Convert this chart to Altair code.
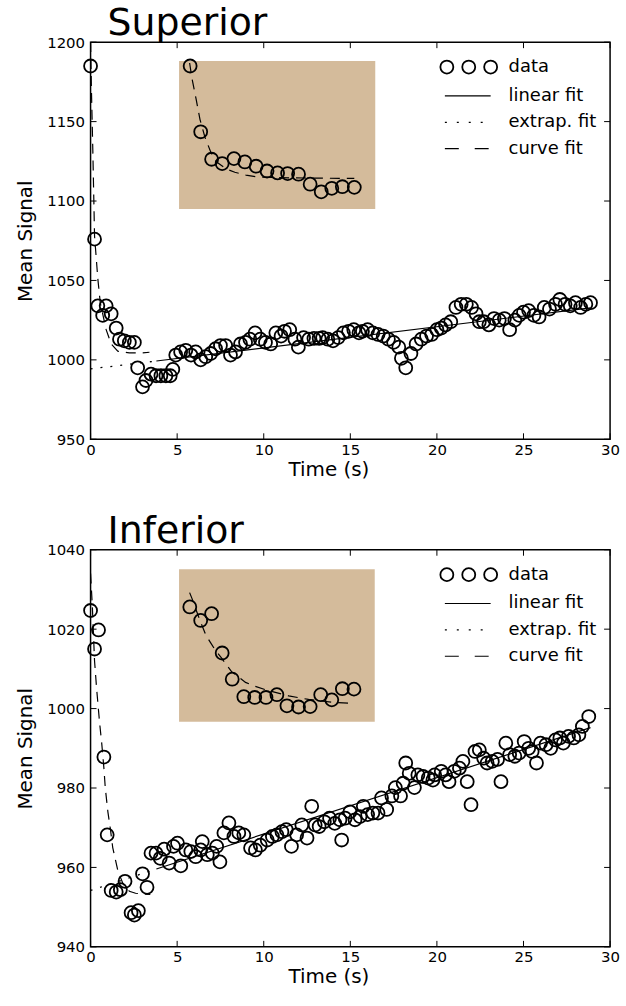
import altair as alt
import pandas as pd

# ---------------- Superior ----------------
sup_t = [0.0, 0.23, 0.42, 0.70, 0.90, 1.19, 1.48, 1.67, 1.95, 2.24, 2.53, 2.72, 3.0, 3.2,
         3.49, 3.78, 4.06, 4.35, 4.6, 4.75, 4.92, 5.2, 5.5, 5.8, 6.07, 6.36, 6.65, 6.94,
         7.22, 7.5, 7.8, 8.08, 8.37, 8.66, 8.95, 9.2, 9.5, 9.8, 10.1, 10.4, 10.7, 11.0,
         11.2, 11.5, 11.8, 12.0, 12.3, 12.6, 12.9, 13.2, 13.4, 13.7, 14.0, 14.3, 14.6,
         14.9, 15.2, 15.5, 15.7, 16.0, 16.3, 16.6, 16.9, 17.2, 17.5, 17.8, 17.95, 18.2,
         18.5, 18.8, 19.1, 19.4, 19.7, 20.0, 20.25, 20.5, 20.8, 21.1, 21.4, 21.7, 22.0,
         22.26, 22.45, 22.7, 23.0, 23.3, 23.6, 23.9, 24.2, 24.5, 24.75, 25.0, 25.3, 25.6,
         25.9, 26.2, 26.5, 26.85, 27.1, 27.4, 27.7, 28.0, 28.3, 28.6, 28.87]
sup_signal = [1185, 1076, 1034, 1028, 1034, 1029, 1020, 1013, 1012, 1011, 1011, 995, 983, 987,
              991, 990, 990, 990, 990, 994, 1003, 1005, 1006, 1003, 1005, 1000, 1002, 1004,
              1007, 1009, 1009, 1003, 1005, 1010, 1011, 1013, 1017, 1013, 1011, 1010, 1017, 1015,
              1018, 1019, 1013, 1008, 1014, 1013, 1013.5, 1013.5, 1014, 1013, 1012, 1014, 1017,
              1018, 1019, 1017, 1018, 1019, 1017, 1016, 1015, 1013, 1011, 1008, 1001, 995,
              1004, 1010, 1013, 1015, 1016, 1019, 1020, 1022, 1024, 1033, 1035, 1035, 1033,
              1029, 1024, 1024, 1022, 1026, 1025, 1026, 1019, 1025, 1028, 1030, 1031, 1028,
              1027, 1033, 1032, 1035, 1038, 1035, 1034, 1036, 1033, 1035, 1036]

sup_curve_t = [0.0, 0.05, 0.13, 0.23, 0.42, 0.56, 0.9, 1.19, 1.57, 2.24, 3.0, 3.4]
sup_curve = [1200, 1170, 1132, 1078, 1051, 1036, 1019, 1010, 1005.5, 1004.4, 1004.4, 1004.8]

sup_lin_t = [3.8, 28.87]
sup_lin = [999.3, 1032.7]
sup_ext_t = [0.0, 3.8]
sup_ext = [994.3, 999.3]

# inset panel (bounds and contents in the main panel's units)
sup_box = {"t0": 5.11, "t1": 16.44, "s0": 1095.0, "s1": 1188.1}
sup_in_t = [5.75, 6.36, 6.99, 7.60, 8.28, 8.91, 9.56, 10.19, 10.80, 11.38, 12.01,
            12.68, 13.32, 13.93, 14.54, 15.23]
sup_in_signal = [1185, 1143.6, 1126.3, 1123.6, 1126.7, 1124.6, 1121.9, 1118.9, 1117.7,
                 1117.3, 1116.9, 1110.6, 1105.8, 1108, 1109, 1108.6]
sup_in_curve_t = [5.72, 5.86, 6.09, 6.32, 6.61, 6.95, 7.30, 7.87, 8.33, 8.97, 9.6,
                  10.86, 13.16, 15.23]
sup_in_curve = [1186.9, 1176.9, 1164.4, 1151.3, 1140, 1130.6, 1124.4, 1120, 1118.1,
                1116.3, 1115.2, 1114.7, 1114.4, 1114.2]

# ---------------- Inferior ----------------
inf_t = [0.0, 0.23, 0.46, 0.77, 0.96, 1.19, 1.48, 1.72, 1.99, 2.34, 2.53, 2.76, 3.0, 3.26,
         3.49, 3.78, 4.02, 4.25, 4.54, 4.79, 5.02, 5.21, 5.5, 5.79, 6.07, 6.36, 6.45, 6.74,
         7.03, 7.28, 7.47, 7.7, 7.99, 8.28, 8.56, 8.85, 9.24, 9.52, 9.8, 10.2, 10.5, 10.76,
         11.05, 11.3, 11.6, 11.9, 12.2, 12.5, 12.77, 12.97, 13.2, 13.5, 13.8, 14.1, 14.4,
         14.5, 14.7, 14.98, 15.27, 15.56, 15.75, 16.0, 16.3, 16.6, 16.8, 17.1, 17.4, 17.6,
         17.9, 18.05, 18.2, 18.4, 18.7, 18.9, 19.2, 19.5, 19.77, 19.87, 20.25, 20.5, 20.7,
         21.0, 21.3, 21.5, 21.75, 21.97, 22.2, 22.45, 22.7, 22.9, 23.2, 23.5, 23.7, 23.98,
         24.2, 24.5, 24.75, 25.04, 25.3, 25.5, 25.75, 25.98, 26.3, 26.57, 26.85, 27.1, 27.3,
         27.6, 27.9, 28.2, 28.4, 28.77]
inf_signal = [1024.7, 1015, 1019.8, 987.8, 968.2, 954.2, 953.8, 954.4, 956.5, 948.6, 948,
              949.1, 958.4, 955, 963.6, 963.6, 962.3, 964.6, 961.1, 965.3, 966.1, 960.4,
              964.4, 964, 962.7, 964.4, 966.5, 963.2, 963.6, 965.3, 961.4, 968.7, 971.2,
              967.8, 968.7, 968.2, 964.9, 964.4, 965.6, 966.9, 967.8, 968.2, 969, 969.5,
              965.3, 968.2, 970.7, 967.4, 975.4, 970.7, 970.3, 971.5, 972.4, 971.1, 972,
              966.9, 972.4, 974, 972, 972.8, 975.4, 973.3, 973.7, 973.7, 977.5, 974.6, 978,
              980.1, 978, 981.2, 986.3, 983.7, 980.1, 983.3, 982.9, 982.5, 982, 983.3,
              984.2, 983.3, 981.6, 984.2, 985, 986.7, 981.6, 975.8, 989.2, 989.6, 987.5,
              986.3, 986.7, 987.2, 981.6, 991.3, 988.4, 988, 988.8, 991.7, 990, 989.2,
              986.3, 991.3, 990.9, 990, 992.1, 992.6, 991.3, 993, 992.6, 993.4, 995.5, 998]

inf_curve_t = [0.0, 0.1, 0.23, 0.35, 0.52, 0.65, 0.77, 0.85, 1.0, 1.15, 1.28, 1.57, 1.86,
               2.24, 2.6, 3.0, 3.45]
inf_curve = [1034, 1026, 1012, 1005, 996.5, 991, 985, 980, 974, 969.5, 965, 959.3, 956,
             954, 953.5, 953.3, 953.2]

inf_lin_t = [3.8, 28.87]
inf_lin = [959.6, 995.2]
inf_ext_t = [0.0, 3.8]
inf_ext = [954.2, 959.6]

inf_box = {"t0": 5.11, "t1": 16.41, "s0": 996.7, "s1": 1035.1}
inf_in_t = [5.73, 6.36, 6.99, 7.60, 8.18, 8.85, 9.48, 10.13, 10.76, 11.34, 12.01, 12.68,
            13.29, 13.93, 14.54, 15.21]
inf_in_signal = [1025.6, 1022.2, 1023.9, 1014, 1007.4, 1003, 1002.8, 1002.8, 1003.5,
                 1000.7, 1000.4, 1000.5, 1003.5, 1002.2, 1005, 1004.9]
inf_in_curve_t = [5.72, 5.86, 6.09, 6.36, 6.65, 6.90, 7.19, 7.57, 8.14, 8.95, 9.43, 10.29,
                  11.44, 12.59, 13.91, 15.11]
inf_in_curve = [1029.2, 1027.7, 1024.9, 1021.7, 1018.6, 1016.8, 1014.8, 1012.7, 1009.3,
                1006.6, 1005.7, 1004.5, 1003.2, 1002.3, 1001.6, 1001.3]

x_ticks = [0, 5, 10, 15, 20, 25, 30]
sup_y_ticks = [950, 1000, 1050, 1100, 1150, 1200]
inf_y_ticks = [940, 960, 980, 1000, 1020, 1040]
legend_labels = ["data", "linear fit", "extrap. fit", "curve fit"]

W, H = 522, 399
FONT = "DejaVu Sans"
TAN = "#D4BB9B"
TICK = 6
DASH = [10, 7]
DOT = [2, 8]


def frame(t, s):
    return pd.DataFrame({"t": t, "s": s})


def panel(title, t, s, ct, cs, lt, ls, et, es, box, it, is_, ict, ics, ydom, yticks):
    xsc = alt.Scale(domain=[0, 30], nice=False, zero=False)
    ysc = alt.Scale(domain=ydom, nice=False, zero=False)
    axis_style = dict(ticks=False, domain=False, grid=False, labelFont=FONT,
                      labelFontSize=15, labelColor="black", titleFont=FONT,
                      titleFontSize=20, titleFontWeight="normal", titleColor="black",
                      labelFlush=False, format="d")
    xax = alt.Axis(values=x_ticks, labelPadding=3, titlePadding=2, titleX=239,
                   titleAlign="center", **axis_style)
    yax = alt.Axis(values=yticks, labelPadding=6, titlePadding=11, **axis_style)

    def xe(field):
        return alt.X(field, type="quantitative", scale=xsc, axis=xax, title="Time (s)")

    def ye(field):
        return alt.Y(field, type="quantitative", scale=ysc, axis=yax, title="Mean Signal")

    inset_bg = alt.Chart(pd.DataFrame([box])).mark_rect(color=TAN).encode(
        x=xe("t0"), x2="t1", y=ye("s0"), y2="s1")
    inset_curve = alt.Chart(frame(ict, ics)).mark_line(
        color="black", strokeWidth=1.2, strokeDash=DASH).encode(
        x=xe("t"), y=ye("s"), order="t:Q")
    inset_pts = alt.Chart(frame(it, is_)).mark_point(
        shape="circle", filled=False, size=170, strokeWidth=1.8, color="black",
        opacity=1).encode(x=xe("t"), y=ye("s"))

    ext = alt.Chart(frame(et, es)).mark_line(
        color="black", strokeWidth=1.3, strokeDash=DOT).encode(
        x=xe("t"), y=ye("s"), order="t:Q")
    lin = alt.Chart(frame(lt, ls)).mark_line(
        color="black", strokeWidth=1.2).encode(x=xe("t"), y=ye("s"), order="t:Q")
    curve = alt.Chart(frame(ct, cs)).mark_line(
        color="black", strokeWidth=1.2, strokeDash=DASH, clip=True).encode(
        x=xe("t"), y=ye("s"), order="t:Q")
    pts = alt.Chart(frame(t, s)).mark_point(
        shape="circle", filled=False, size=170, strokeWidth=1.8, color="black",
        opacity=1).encode(x=xe("t"), y=ye("s"))

    # inward ticks on all four sides
    xt = pd.DataFrame({"v": x_ticks})
    yt = pd.DataFrame({"v": yticks})
    tk = dict(color="black", strokeWidth=1)
    ticks = [
        alt.Chart(xt).mark_rule(**tk).encode(
            x=xe("v"), y=alt.value(H), y2=alt.value(H - TICK)),
        alt.Chart(xt).mark_rule(**tk).encode(
            x=xe("v"), y=alt.value(0), y2=alt.value(TICK)),
        alt.Chart(yt).mark_rule(**tk).encode(
            y=ye("v"), x=alt.value(0), x2=alt.value(TICK)),
        alt.Chart(yt).mark_rule(**tk).encode(
            y=ye("v"), x=alt.value(W - TICK), x2=alt.value(W)),
    ]

    # legend in the upper right corner
    one = pd.DataFrame({"k": [0]})
    rows = [25, 54, 80.5, 107]
    lx0, lx1, ltext = 356, 402, 420
    leg = []
    for cx in (358, 380, 402):
        leg.append(alt.Chart(one).mark_point(
            shape="circle", filled=False, size=170, strokeWidth=1.8, color="black",
            opacity=1).encode(x=alt.value(cx), y=alt.value(rows[0])))
    leg.append(alt.Chart(one).mark_rule(color="black", strokeWidth=1.2).encode(
        x=alt.value(lx0), x2=alt.value(lx1), y=alt.value(rows[1])))
    leg.append(alt.Chart(one).mark_rule(color="black", strokeWidth=1.3,
                                         strokeDash=[2, 10]).encode(
        x=alt.value(lx0), x2=alt.value(lx1), y=alt.value(rows[2])))
    leg.append(alt.Chart(one).mark_rule(color="black", strokeWidth=1.2,
                                         strokeDash=[14, 16]).encode(
        x=alt.value(lx0), x2=alt.value(lx1), y=alt.value(rows[3])))
    for lab, ry in zip(legend_labels, rows):
        leg.append(alt.Chart(one).mark_text(
            text=lab, align="left", baseline="middle", font=FONT, fontSize=18,
            color="black").encode(x=alt.value(ltext), y=alt.value(ry)))

    return alt.layer(inset_bg, inset_curve, inset_pts, ext, lin, curve, pts,
                     *ticks, *leg).properties(
        width=W, height=H,
        title=alt.TitleParams(title, anchor="start", frame="group", fontSize=38,
                              font=FONT, fontWeight="normal", color="black", dx=17,
                              offset=-8))


top = panel("Superior", sup_t, sup_signal, sup_curve_t, sup_curve, sup_lin_t, sup_lin,
            sup_ext_t, sup_ext, sup_box, sup_in_t, sup_in_signal, sup_in_curve_t,
            sup_in_curve, [950, 1200], sup_y_ticks)
bottom = panel("Inferior", inf_t, inf_signal, inf_curve_t, inf_curve, inf_lin_t, inf_lin,
               inf_ext_t, inf_ext, inf_box, inf_in_t, inf_in_signal, inf_in_curve_t,
               inf_in_curve, [940, 1040], inf_y_ticks)

chart = alt.vconcat(top, bottom, spacing=32).properties(
    padding={"left": 15, "top": 2, "right": 5, "bottom": 5},
    background="white",
).configure_view(stroke="black", strokeWidth=1.5)

chart.save("out.html", embed_options={"renderer": "svg", "actions": False})
